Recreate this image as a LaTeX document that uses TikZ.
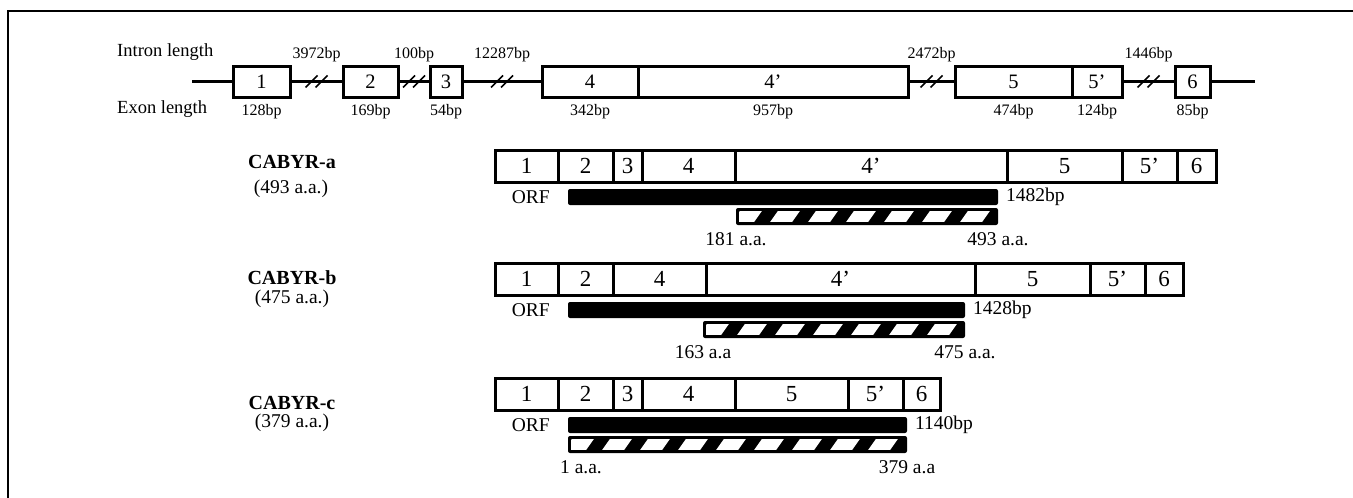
\documentclass[tikz,border=0pt]{standalone}
\usepackage{fontspec}
\setmainfont{Liberation Serif}
\usetikzlibrary{positioning,calc}

\tikzset{
  exon/.style={draw, line width=3pt, inner sep=0pt, outer sep=0pt,
    minimum height=31pt, font=\fontsize{20.5}{22}\selectfont},
  seg/.style={draw, line width=3pt, inner sep=0pt, outer sep=0pt,
    minimum height=32pt, font=\fontsize{23}{25}\selectfont},
  bb/.style={line width=3pt},
  small/.style={inner sep=0pt, font=\fontsize{16}{18}\selectfont},
  side/.style={inner sep=0pt, font=\fontsize{18.5}{20}\selectfont},
  lbl/.style={inner sep=0pt, font=\fontsize{19.5}{21}\selectfont},
  isoname/.style={inner sep=0pt, font=\fontsize{20}{22}\selectfont\bfseries},
  orf/.style={fill=black, rounded corners=2pt, inner sep=0pt, outer sep=0pt,
    minimum height=16pt},
  hatch/.style={fill=black, rounded corners=2pt, inner sep=0pt, outer sep=0pt,
    minimum height=17pt,
    path picture={
      \begin{scope}[sharp corners]
        \clip ($(path picture bounding box.south west)+(3pt,3.5pt)$)
          rectangle ($(path picture bounding box.north east)+(-3pt,-3.5pt)$);
        \foreach \k in {0,...,9}
          \fill[white] ($(path picture bounding box.south west)+({(38*\k-6)*1pt},0pt)$)
            -- ++(22pt,0pt) -- ++(12pt,17pt) -- ++(-22pt,0pt) -- cycle;
      \end{scope}
    }},
  brk/.pic={\draw[line width=1.6pt] (-11pt,-6pt) -- (1pt,6pt) (-1pt,-6pt) -- (11pt,6pt);},
}

\begin{document}
\begin{tikzpicture}[x=1pt, y=-1pt]
  \useasboundingbox (0,0) rectangle (1353,498);
  % frame
  \draw[line width=2pt] (1353,11) -- (8,11) -- (8,498);

  % genomic structure
  \node[side, anchor=west] (intr) at (117,52) {Intron length};
  \node[side, anchor=west] (exl) at (117,109.5) {Exon length};
  \coordinate (gl) at (192,81.5);
  \coordinate (gr) at (1255,81.5);
  \foreach \n/\l/\r/\t in {e1/233/290/1, e2/343/398/2, e3/430/462/3,
      e4/542/638/4, e4p/638/908/4’, e5/955/1072/5, e5p/1072/1122/5’, e6/1175/1210/6}
    \node[exon, minimum width={(\r-\l)*1pt}, name=\n] at ({(\l+\r)/2},81.5) {\t};

  \draw[bb] (gl) -- (e1);
  \draw[bb] (e1) -- coordinate[midway] (i1) (e2);
  \draw[bb] (e2) -- coordinate[midway] (i2) (e3);
  \draw[bb] (e3) -- coordinate[midway] (i3) (e4);
  \draw[bb] (e4p) -- coordinate[midway] (i4) (e5);
  \draw[bb] (e5p) -- coordinate[midway] (i5) (e6);
  \draw[bb] (e6) -- (gr);
  \foreach \i/\t in {i1/3972bp, i2/100bp, i3/12287bp, i4/2472bp, i5/1446bp} {
    \pic at (\i) {brk};
    \node[small, above=19pt of \i] {\t};
  }
  \foreach \e/\t in {e1/128bp, e2/169bp, e3/54bp, e4/342bp, e4p/957bp,
      e5/474bp, e5p/124bp, e6/85bp}
    \node[small, below=7.5pt of \e] {\t};

  % CABYR-a
  \node[isoname] (na) at (292,162) {CABYR-a};
  \node[lbl] (la) at (291,189) {(493 a.a.)};
  \foreach \l/\r/\t [count=\i] in {495/558/1, 558/613/2, 613/642/3, 642/735/4,
      735/1007/4’, 1007/1122/5, 1122/1177/5’, 1177/1216/6}
    \node[seg, minimum width={(\r-\l)*1pt}, name=a\i] at ({(\l+\r)/2},166) {\t};
  \node[orf, minimum width=430pt] (orfa) at (783,197) {};
  \node[lbl, left=18pt of orfa] {ORF};
  \node[lbl, right=8pt of orfa] {1482bp};
  \node[hatch, minimum width=262pt] (ha) at (867,216.5) {};
  \node[lbl, below=7.5pt of ha.south west] {181 a.a.};
  \node[lbl, below=7.5pt of ha.south east] {493 a.a.};

  % CABYR-b
  \node[isoname] (nb) at (292,278) {CABYR-b};
  \node[lbl] (lb) at (292,299) {(475 a.a.)};
  \foreach \l/\r/\t [count=\i] in {495/558/1, 558/613/2, 613/706/4,
      706/975/4’, 975/1090/5, 1090/1145/5’, 1145/1183/6}
    \node[seg, minimum width={(\r-\l)*1pt}, name=b\i] at ({(\l+\r)/2},279) {\t};
  \node[orf, minimum width=397pt] (orfb) at (766.5,310) {};
  \node[lbl, left=18pt of orfb] {ORF};
  \node[lbl, right=8pt of orfb] {1428bp};
  \node[hatch, minimum width=262pt] (hb) at (834,329.5) {};
  \node[lbl, below=7.5pt of hb.south west] {163 a.a};
  \node[lbl, below=7.5pt of hb.south east] {475 a.a.};

  % CABYR-c
  \node[isoname] (nc) at (292,403) {CABYR-c};
  \node[lbl] (lc) at (292,423) {(379 a.a.)};
  \foreach \l/\r/\t [count=\i] in {495/558/1, 558/613/2, 613/642/3, 642/735/4,
      735/848/5, 848/903/5’, 903/940/6}
    \node[seg, minimum width={(\r-\l)*1pt}, name=c\i] at ({(\l+\r)/2},394) {\t};
  \node[orf, minimum width=339pt] (orfc) at (737.5,425) {};
  \node[lbl, left=18pt of orfc] {ORF};
  \node[lbl, right=8pt of orfc] {1140bp};
  \node[hatch, minimum width=339pt] (hc) at (737.5,444.5) {};
  \node[lbl, below=7.5pt of hc.south west, xshift=13pt] {1 a.a.};
  \node[lbl, below=7.5pt of hc.south east] {379 a.a};
\end{tikzpicture}
\end{document}
